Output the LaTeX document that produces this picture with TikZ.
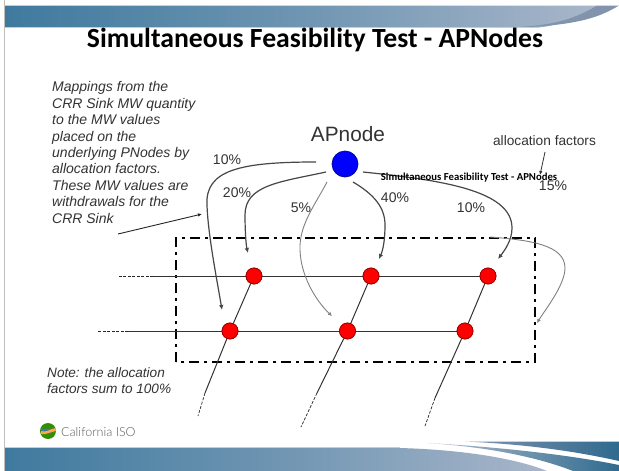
\documentclass[tikz,border=0pt]{standalone}
\usepackage{fontspec}
\setmainfont{Liberation Sans}
\newfontfamily\carl{Carlito}
\newfontfamily\calfont{Lato Light}
\usetikzlibrary{arrows.meta}
\definecolor{bandA}{HTML}{3F7A9E}
\definecolor{bandB}{HTML}{A9B6CA}
\definecolor{bandC}{HTML}{8293AD}
\definecolor{bandD}{HTML}{2F6A8E}
\definecolor{txt}{HTML}{333333}
\tikzset{
  redbus/.style={circle,draw=red!60!black,line width=.7pt,fill=red,minimum size=16pt,inner sep=0},
  gridline/.style={draw=black!80,line width=1pt},
  gridstub/.style={draw=black!85,line width=.7pt,dash pattern=on 3pt off 1.5pt},
  alloc/.style={draw=black!72,line width=1.2pt,-{Latex[length=5pt,width=4.5pt]}},
  allocthin/.style={draw=black!50,line width=.9pt,-{Latex[length=4pt,width=4pt]}},
  pct/.style={font=\fontsize{14}{14}\selectfont,text=txt,inner sep=0},
  note/.style={font=\fontsize{14}{16.4}\selectfont\itshape,text=txt,align=left,anchor=north west,inner sep=0},
}
\begin{document}
\begin{tikzpicture}[x=1pt,y=-1pt]
\useasboundingbox (0,0) rectangle (619,471);
\fill[white] (0,0) rectangle (619,471);
\draw[black!25,line width=.8pt] (4.5,0) -- (4.5,471);
% top band
\shade[left color=bandA,right color=bandB,middle color=bandA!55!bandB] (5,5.5) -- (597,5.5) .. controls (580,15) and (565,24) .. (543,27) -- (5,27) -- cycle;
\fill[bandC] (597,5.5) -- (619,5.5) .. controls (600,17) and (580,24) .. (530,27) -- (520,27) .. controls (565,24) and (580,15) .. (597,5.5) -- cycle;
\draw[bandA!35,line width=.6pt] (5,27.5) -- (540,27.5);
% bottom band
\shade[left color=bandA,right color=bandB,middle color=bandA!55!bandB] (5,448) -- (400,448) .. controls (470,450) and (520,460) .. (547,471) -- (5,471) -- cycle;
\shade[left color=bandC!60!white,right color=bandD] (427,443) .. controls (500,447) and (570,455) .. (619,465) -- (619,471) -- (573,471) .. controls (540,458) and (490,447) .. (427,443) -- cycle;
\shade[left color=bandC,right color=bandD] (465,441.5) -- (619,441.5) -- (619,461) .. controls (570,450) and (520,444) .. (465,441.5) -- cycle;
\draw[bandA!35,line width=.6pt] (5,447.5) -- (400,447.5);
% title
\node[inner sep=0] (title) at (315,40) {\carl\bfseries\fontsize{27.7}{27.7}\selectfont Simultaneous Feasibility Test - APNodes};
% left notes
\node[note] (mapnote) at (52,81.5) {Mappings from the\\CRR Sink MW quantity\\to the MW values\\placed on the\\underlying PNodes by\\allocation factors.\\These MW values are\\withdrawals for the\\CRR Sink};
\node[note,font=\fontsize{13.6}{16.4}\selectfont\itshape] (sumnote) at (47,367) {Note: the allocation\\factors sum to 100\%};
% dash box
\draw[black,line width=2.4pt,dash pattern=on 10pt off 5pt on 3pt off 5pt] (176,362) |- (535,238) |- cycle;
% buses
\node[redbus] (t1) at (254,276) {};
\node[redbus] (t2) at (371,276) {};
\node[redbus] (t3) at (488,276) {};
\node[redbus] (b1) at (230,331) {};
\node[redbus] (b2) at (347.5,331) {};
\node[redbus] (b3) at (465,331) {};
\node[circle,draw=blue!60!black,line width=.7pt,fill=blue,minimum size=26pt,inner sep=0] (ap) at (345,164) {};
% free ends
\coordinate (tw) at (153,276); \coordinate (twd) at (118,276);
\coordinate (bw) at (128,331); \coordinate (bwd) at (97,331);
\coordinate (s1) at (205,393); \coordinate (s1d) at (198,416);
\coordinate (s2) at (317,393); \coordinate (s2d) at (301,427);
\coordinate (s3) at (435,398); \coordinate (s3d) at (425,426);
\path[gridline] (tw) -- (t1) -- (t2) -- (t3);
\path[gridline] (bw) -- (b1) -- (b2) -- (b3);
\path[gridline] (t1) -- (b1) -- (s1);
\path[gridline] (t2) -- (b2) -- (s2);
\path[gridline] (t3) -- (b3) -- (s3);
\path[gridstub] (tw) -- (twd);
\path[gridstub] (bw) -- (bwd);
\path[gridstub] (s1) -- (s1d);
\path[gridstub] (s2) -- (s2d);
\path[gridstub] (s3) -- (s3d);
% buses again, over the lines
\node[redbus] at (t1) {}; \node[redbus] at (t2) {}; \node[redbus] at (t3) {};
\node[redbus] at (b1) {}; \node[redbus] at (b2) {}; \node[redbus] at (b3) {};
% allocation arrows
\coordinate (a1s) at (316,162); \coordinate (a1e) at (222,310);
\coordinate (a2s) at (326,172); \coordinate (a2e) at (248,253);
\coordinate (a3s) at (327,182); \coordinate (a3e) at (332,316);
\coordinate (a4s) at (353,182); \coordinate (a4e) at (379,259);
\coordinate (a5s) at (363,172); \coordinate (a5e) at (498,259);
\coordinate (a6s) at (490,237); \coordinate (a6e) at (537,323);
\path[alloc] (a1s) .. controls (240,162) and (205,170) .. (207,205) .. controls (208,235) and (217,280) .. (a1e);
\path[alloc] (a2s) .. controls (280,182) and (245,185) .. (245,215) .. controls (245,230) and (246,245) .. (a2e);
\path[allocthin] (a3s) .. controls (315,205) and (299,225) .. (300,250) .. controls (301,280) and (320,305) .. (a3e);
\path[alloc] (a4s) .. controls (375,195) and (385,208) .. (385,225) .. controls (385,240) and (383,250) .. (a4e);
\path[alloc] (a5s) .. controls (440,180) and (512,190) .. (512,228) .. controls (512,240) and (505,250) .. (a5e);
\path[allocthin] (a6s) .. controls (530,240) and (565,245) .. (565,268) .. controls (565,285) and (545,310) .. (a6e);
% labels
\node[inner sep=0,font=\fontsize{20.8}{20.8}\selectfont,text=txt] (aplabel) at (348,134) {APnode};
\node[pct] (p1) at (227,159.5) {10\%};
\node[pct] (p2) at (237,192.5) {20\%};
\node[pct] (p3) at (301,208) {5\%};
\node[pct] (p4) at (395,198) {40\%};
\node[pct] (p5) at (471,208) {10\%};
\node[pct] (p6) at (553,186) {15\%};
\node[inner sep=0] (overlay) at (469,178) {\carl\bfseries\fontsize{10.7}{10.7}\selectfont Simultaneous Feasibility Test - APNodes};
\node[inner sep=0,font=\fontsize{13.7}{13.7}\selectfont,text=txt] (aflabel) at (544.5,141) {allocation factors};
\coordinate (afe) at (540,175);
\draw[black!80,line width=.8pt,-{Latex[length=4pt,width=3.5pt]}] (545,152) -- (afe);
\coordinate (ms) at (118,234); \coordinate (me) at (202,214);
\draw[black!85,line width=.9pt,-{Latex[length=4pt,width=3.5pt]}] (ms) -- (me);
% logo
\fill[green!45!black!80!yellow] (48,431) circle (8);
\fill[bandA] (40.5,428.5) arc (200:340:8 and -8) -- cycle;
\fill[orange!70!white] (41,431) .. controls (46,433) and (50,429) .. (55.5,428) -- (56,431) .. controls (50,432) and (46,435) .. (41,434) -- cycle;
\node[inner sep=0,anchor=west,text=black!65,font=\calfont\fontsize{12.5}{12.5}\selectfont] (iso) at (61,431.5) {California ISO};
\end{tikzpicture}
\end{document}
